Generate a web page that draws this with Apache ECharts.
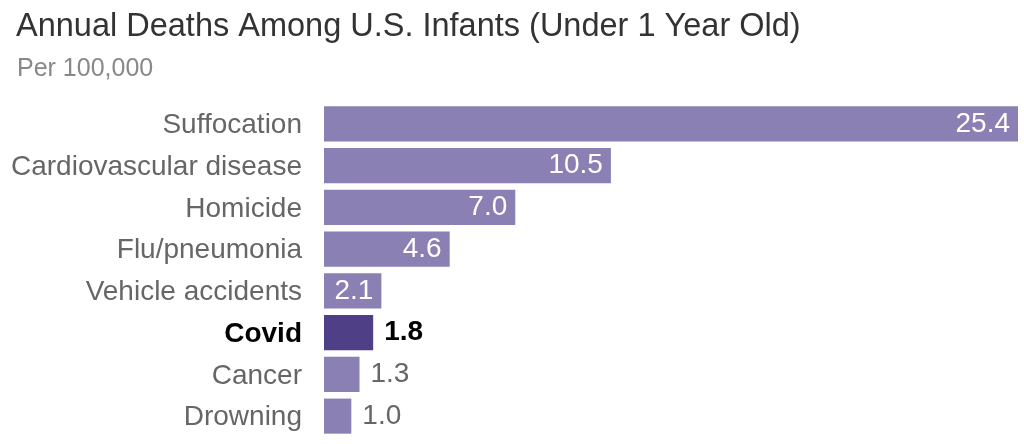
<!DOCTYPE html>
<html>
<head>
<meta charset="utf-8">
<script src="https://cdn.jsdelivr.net/npm/echarts@6/dist/echarts.min.js"></script>
<style>html,body{margin:0;padding:0;background:#fff;}#c{width:1024px;height:444px;}</style>
</head>
<body>
<div id="c"></div>
<script>
const categories = ['Suffocation','Cardiovascular disease','Homicide','Flu/pneumonia','Vehicle accidents','Covid','Cancer','Drowning'];
const values = [25.4, 10.5, 7.0, 4.6, 2.1, 1.8, 1.3, 1.0];
const highlight = 'Covid';
const insideThreshold = 2.0;

const FONT = '"Liberation Sans", Arial, sans-serif';
const chart = echarts.init(document.getElementById('c'));
const data = values.map((v, i) => {
  const isHi = categories[i] === highlight;
  const inside = v >= insideThreshold;
  return {
    value: v,
    itemStyle: { color: isHi ? '#4e3f86' : '#8a80b4' },
    label: inside ? {
      position: 'insideRight', distance: 8, color: '#fff', fontSize: 28, fontFamily: FONT,
      padding: [3, 0, 0, 0]
    } : {
      position: 'right', distance: 11, color: isHi ? '#000' : '#666',
      fontWeight: isHi ? 'bold' : 'normal', fontSize: 28, fontFamily: FONT,
      padding: [3, 0, 0, 0]
    }
  };
});
chart.setOption({
  animation: false,
  title: [{
    text: 'Annual Deaths Among U.S. Infants (Under 1 Year Old)',
    left: 11, top: 6,
    textStyle: { fontFamily: FONT, fontSize: 32.5, fontWeight: 'normal', color: '#333' }
  }, {
    text: 'Per 100,000',
    left: 12, top: 52,
    textStyle: { fontFamily: FONT, fontSize: 25, fontWeight: 'normal', color: '#888' }
  }],
  grid: { left: 324, right: 6, top: 103, bottom: 7, containLabel: false },
  xAxis: { type: 'value', min: 0, max: 25.4, show: false },
  yAxis: {
    type: 'category', data: categories, inverse: true,
    axisLine: { show: false }, axisTick: { show: false },
    axisLabel: {
      margin: 22, fontSize: 28, fontFamily: FONT, color: '#666', padding: [3, 0, 0, 0],
      formatter: v => v === highlight ? '{b|' + v + '}' : v,
      rich: { b: { fontSize: 28, fontFamily: FONT, fontWeight: 'bold', color: '#000' } }
    }
  },
  series: [{
    type: 'bar', data: data, barCategoryGap: '16%',
    label: { show: true, formatter: p => p.value.toFixed(1) }
  }]
});
</script>
</body>
</html>
